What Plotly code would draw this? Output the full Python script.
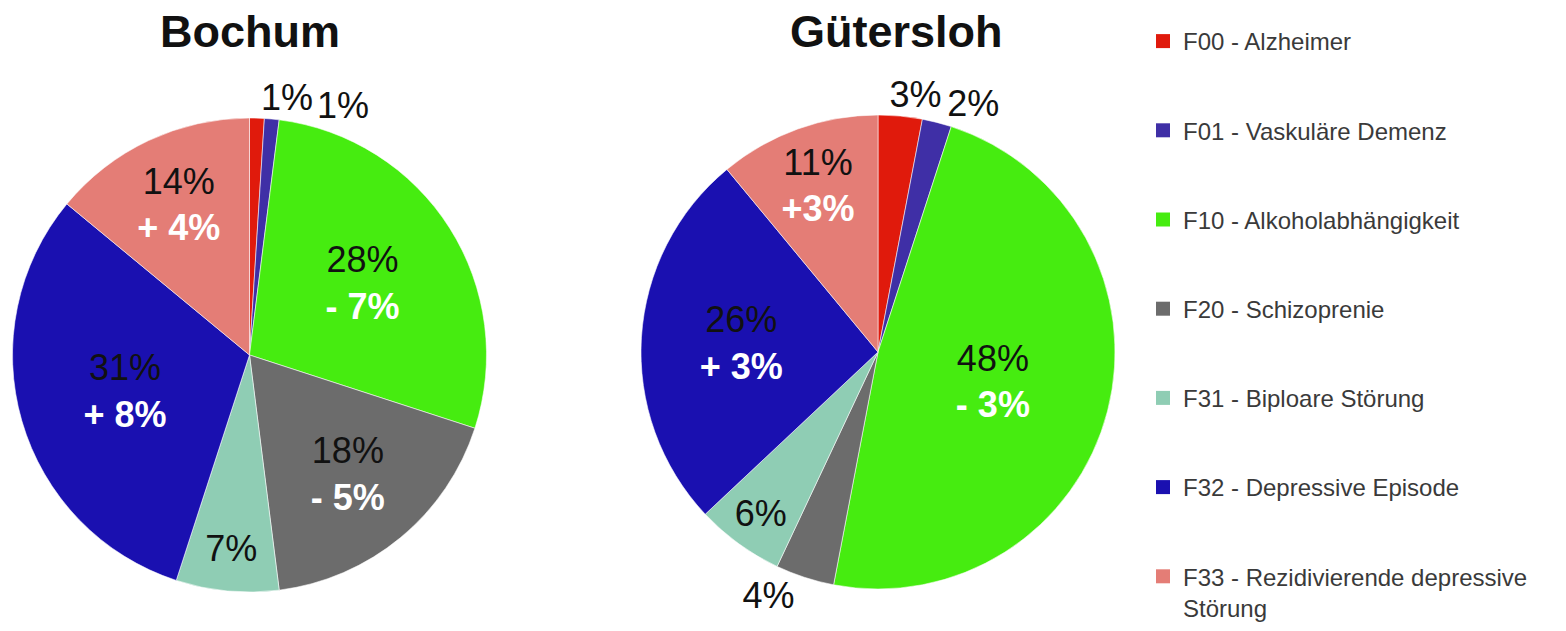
import plotly.graph_objects as go

W, H = 1566, 631

categories = [
    "F00 - Alzheimer",
    "F01 - Vaskuläre Demenz",
    "F10 - Alkoholabhängigkeit",
    "F20 - Schizoprenie",
    "F31 - Biploare Störung",
    "F32 - Depressive Episode",
    "F33 - Rezidivierende depressive<br>Störung",
]
colors = ["#e01a0c", "#3f2fa6", "#46ec10", "#6c6c6c", "#8fcdb4", "#1a10b0", "#e47d76"]

bochum_values = [1, 1, 28, 18, 7, 31, 14]
bochum_change = ["", "", "- 7%", "- 5%", "", "+ 8%", "+ 4%"]
bochum_pos = ["outside", "outside", "inside", "inside", "inside", "inside", "inside"]

guetersloh_values = [3, 2, 48, 4, 6, 26, 11]
guetersloh_change = ["", "", "- 3%", "", "", "+ 3%", "+3%"]
guetersloh_pos = ["outside", "outside", "inside", "outside", "inside", "inside", "inside"]

titles = ["Bochum", "Gütersloh"]

FONT = "Liberation Sans, Arial, sans-serif"


def texts(values, changes):
    out = []
    for v, c in zip(values, changes):
        t = f"{v}%"
        if c:
            t += f"<br><b><span style='color:white'>{c}</span></b>"
        out.append(t)
    return out


def px_dom(x0, x1, y0, y1):
    return dict(x=[x0 / W, x1 / W], y=[1 - y1 / H, 1 - y0 / H])


fig = go.Figure()

pies = [
    # values, changes, positions, domain, {slice index: label rotation offset}
    (bochum_values, bochum_change, bochum_pos, px_dom(12, 487, 118, 592), {0: -1.5, 1: 8.6}),
    (guetersloh_values, guetersloh_change, guetersloh_pos, px_dom(641, 1115, 115, 589), {0: -5.1}),
]
for vals, chg, pos, dom, twins in pies:
    txt = texts(vals, chg)
    main_pos = [("none" if i in twins else p) for i, p in enumerate(pos)]
    fig.add_trace(go.Pie(
        labels=categories,
        values=vals,
        text=txt,
        textinfo="text",
        textposition=main_pos,
        insidetextorientation="horizontal",
        sort=False,
        direction="clockwise",
        rotation=0,
        marker=dict(colors=colors, line=dict(color="rgba(255,255,255,0.55)", width=1)),
        textfont=dict(family=FONT, size=36, color="#111111"),
        domain=dom,
        showlegend=False,
        hoverinfo="label+percent",
    ))
    # transparent twin pies, each carrying one small outside label
    for idx, rot in twins.items():
        fig.add_trace(go.Pie(
            labels=categories,
            values=vals,
            text=txt,
            textinfo="text",
            textposition=[(pos[i] if i == idx else "none") for i in range(len(vals))],
            sort=False,
            direction="clockwise",
            rotation=rot,
            marker=dict(colors=["rgba(0,0,0,0)"] * len(vals), line=dict(width=0)),
            textfont=dict(family=FONT, size=36, color="#111111"),
            domain=dom,
            showlegend=False,
            hoverinfo="skip",
        ))

# legend entries
for i, (cat, col) in enumerate(zip(categories, colors)):
    fig.add_trace(go.Scatter(
        x=[None], y=[None], mode="markers", name=cat,
        marker=dict(symbol="square", size=14, color=col),
        legendgroup=f"g{i}", showlegend=True,
    ))

annotations = []
for t, cx in zip(titles, [250, 897]):
    annotations.append(dict(
        text=f"<b>{t}</b>", x=cx / W, y=1 - 31 / H, xref="paper", yref="paper",
        showarrow=False, font=dict(family=FONT, size=45, color="#111111"),
        xanchor="center", yanchor="middle",
    ))

fig.update_layout(
    width=W, height=H,
    margin=dict(l=0, r=0, t=0, b=0),
    paper_bgcolor="white", plot_bgcolor="white",
    xaxis=dict(visible=False), yaxis=dict(visible=False),
    uniformtext=dict(minsize=36, mode="show"),
    annotations=annotations,
    legend=dict(
        x=1143 / W, y=1 - 19 / H, xanchor="left", yanchor="top",
        font=dict(family=FONT, size=24, color="#3a3a3a"),
        tracegroupgap=55, valign="top", itemwidth=30,
        bgcolor="rgba(0,0,0,0)",
    ),
)

fig.write_html("out.html")
